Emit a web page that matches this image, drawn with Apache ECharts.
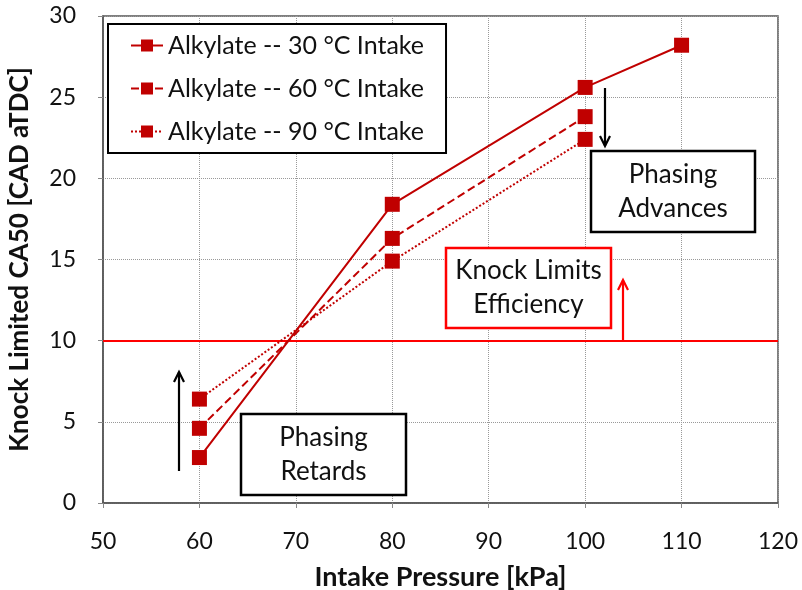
<!DOCTYPE html>
<html>
<head>
<meta charset="utf-8">
<script src="https://cdn.jsdelivr.net/npm/echarts@6/dist/echarts.min.js"></script>
<style>
  html, body { margin: 0; padding: 0; background: #fff; }
  #main { width: 802px; height: 590px; }
</style>
</head>
<body>
<div id="main"></div>
<script>
// data
const pressure30 = [60, 80, 100, 110];
const ca50_30 = [2.8, 18.4, 25.6, 28.2];
const pressure60 = [60, 80, 100];
const ca50_60 = [4.6, 16.3, 23.8];
const pressure90 = [60, 80, 100];
const ca50_90 = [6.4, 14.9, 22.4];
const seriesNames = ['Alkylate -- 30 °C Intake', 'Alkylate -- 60 °C Intake', 'Alkylate -- 90 °C Intake'];
const knockLimit = 10;

const font = 'Lato, "Noto Sans", sans-serif';
const dark = '#C00000';

function pairs(xs, ys) {
    return xs.map((x, i) => [x, ys[i]]);
}

function mkSeries(name, data, type) {
    return {
        name: name,
        type: 'line',
        data: data,
        symbol: 'rect',
        symbolSize: 15,
        itemStyle: { color: dark },
        lineStyle: { color: dark, width: 2, type: type },
        emphasis: { disabled: true },
        z: 5
    };
}

// box with two lines of text
function textBox(x, y, w, h, text, borderColor) {
    return {
        type: 'group',
        children: [
            { type: 'rect', shape: { x: x, y: y, width: w, height: h },
              style: { fill: '#fff', stroke: borderColor, lineWidth: 2.5 }, z: 10 },
            { type: 'text', x: x + w / 2, y: y + h / 2, z: 11,
              style: { text: text, font: '26px ' + font, fill: '#111',
                       align: 'center', verticalAlign: 'middle', lineHeight: 34 } }
        ]
    };
}

function arrow(x, y1, y2, color, dir) {
    // dir: -1 pointing up, 1 pointing down
    const tip = dir < 0 ? Math.min(y1, y2) : Math.max(y1, y2);
    return {
        type: 'group',
        children: [
            { type: 'line', shape: { x1: x, y1: y1, x2: x, y2: y2 },
              style: { stroke: color, lineWidth: 2.2 }, z: 12 },
            { type: 'polyline', shape: { points: [[x - 5, tip - dir * 10], [x, tip], [x + 5, tip - dir * 10]] },
              style: { stroke: color, lineWidth: 2.2, fill: null }, z: 12 }
        ]
    };
}

let options = {
    animation: false,
    backgroundColor: '#fff',
    grid: {
        left: 103, right: 24, top: 16, bottom: 87,
        containLabel: false,
        outerBoundsMode: 'none',
        show: true, borderColor: '#555', borderWidth: 1.5
    },
    legend: {
        orient: 'vertical',
        left: 108, top: 24,
        padding: [9, 22, 9, 22],
        itemGap: 18,
        itemWidth: 32,
        itemHeight: 15,
        borderColor: '#000',
        borderWidth: 2,
        backgroundColor: '#fff',
        textStyle: { fontFamily: font, fontSize: 25, color: '#111' },
        data: seriesNames,
        z: 10
    },
    xAxis: {
        type: 'value',
        min: 50, max: 120, interval: 10,
        name: 'Intake Pressure [kPa]',
        nameLocation: 'middle',
        nameGap: 61,
        nameTextStyle: { fontFamily: font, fontSize: 27, fontWeight: 'bold', color: '#111' },
        axisLine: { lineStyle: { color: '#555', width: 1.5 } },
        axisTick: { show: true, length: 5, lineStyle: { color: '#888' } },
        axisLabel: { fontFamily: font, fontSize: 23, color: '#111', margin: 27 },
        splitLine: { lineStyle: { color: '#999', type: 'dotted', width: 1 } }
    },
    yAxis: {
        type: 'value',
        min: 0, max: 30, interval: 5,
        name: 'Knock Limited CA50 [CAD aTDC]',
        nameLocation: 'middle',
        nameGap: 70,
        nameTextStyle: { fontFamily: font, fontSize: 26, fontWeight: 'bold', color: '#111' },
        axisLine: { show: true, lineStyle: { color: '#555', width: 1.5 } },
        axisTick: { show: true, length: 5, lineStyle: { color: '#888' } },
        axisLabel: { fontFamily: font, fontSize: 23, color: '#111', margin: 27 },
        splitLine: { lineStyle: { color: '#999', type: 'dotted', width: 1 } }
    },
    series: [
        Object.assign(mkSeries(seriesNames[0], pairs(pressure30, ca50_30), 'solid'), {
            markLine: {
                silent: true,
                symbol: 'none',
                label: { show: false },
                lineStyle: { color: '#FF0000', width: 2, type: 'solid' },
                data: [{ yAxis: knockLimit }],
                z: 4
            }
        }),
        mkSeries(seriesNames[1], pairs(pressure60, ca50_60), 'dashed'),
        mkSeries(seriesNames[2], pairs(pressure90, ca50_90), 'dotted')
    ],
    graphic: [
        textBox(241, 414, 165, 81, 'Phasing\nRetards', '#000'),
        textBox(591, 151, 164, 81, 'Phasing\nAdvances', '#000'),
        textBox(446, 248, 165, 80, 'Knock Limits\nEfficiency', '#FF0000'),
        arrow(179, 471, 372, '#000', -1),
        arrow(605, 88, 146, '#000', 1),
        arrow(623, 341, 280, '#FF0000', -1)
    ]
};

let myChart = echarts.init(document.getElementById('main'));
myChart.setOption(options);
</script>
</body>
</html>
